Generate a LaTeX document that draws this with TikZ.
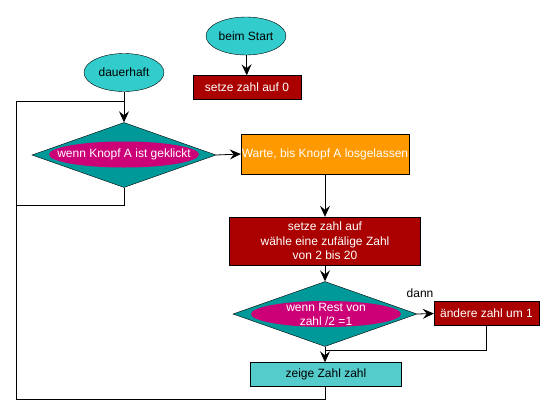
\documentclass[tikz,border=0pt]{standalone}
\usepackage{fontspec}
\setmainfont{Liberation Sans}
\usetikzlibrary{positioning,arrows.meta,shapes.geometric}

\definecolor{hatcyan}{RGB}{51,204,204}
\definecolor{condteal}{RGB}{0,153,153}
\definecolor{condpink}{RGB}{204,0,119}
\definecolor{cmdred}{RGB}{170,0,0}
\definecolor{cmdorange}{RGB}{255,153,0}
\definecolor{showcyan}{RGB}{85,204,204}

\begin{document}
\begin{tikzpicture}[x=1pt, y=-1pt,
  font=\fontsize{12}{14.5}\selectfont,
  hat/.style={ellipse, draw=black, fill=hatcyan, minimum width=80pt, minimum height=38pt, inner sep=0pt},
  cmdbox/.style={draw=black, fill=#1, text=white, inner sep=0pt, align=center},
  cond/.style={diamond, draw=black, fill=condteal, minimum width=184pt, minimum height=65pt, inner sep=0pt},
  condmark/.style={ellipse, fill=condpink, minimum width=150pt, minimum height=26pt, inner sep=0pt},
  flow/.style={-{Stealth[length=11pt, width=10pt, inset=4pt]}, line width=0.8pt},
  wire/.style={line width=0.8pt}
]
\useasboundingbox (0,0) rectangle (554,418);

% Start
\node[hat] (start) at (246,36) {beim Start};
\node[cmdbox=cmdred, minimum width=108pt, minimum height=24pt] (set0) at (247,87.5) {setze zahl auf 0};

% Forever
\node[hat] (forever) at (124,72.5) {dauerhaft};
\coordinate (loopin) at (124,101);
\coordinate (lefttop) at (16,101);

% If button A
\node[cond] (ifA) at (124,155) {};
\node[condmark] (ifAmark) at (124,154.5) {};
\node[text=white] (ifAtext) at (124,154.5) {wenn Knopf A ist geklickt};
\coordinate (lowA) at (124,205);
\coordinate (leftA) at (16,205);

% Wait and random
\node[cmdbox=cmdorange, minimum width=168pt, minimum height=40pt] (wait) at (325,154) {Warte, bis Knopf A losgelassen};
\node[cmdbox=cmdred, minimum width=191pt, minimum height=48pt] (rnd) at (325,241)
  {setze zahl auf\\wähle eine zufälige Zahl\\von 2 bis 20};

% If remainder
\node[cond] (ifRest) at (325,314) {};
\node[condmark] (ifRestmark) at (326,314) {};
\node[text=white, align=center] (ifResttext) at (326,314.5) {wenn Rest von\\zahl /2 =1};
\node (lblThen) at (420,293) {dann};
\node[cmdbox=cmdred, minimum width=105pt, minimum height=24pt] (change) at (486.5,313.5) {ändere zahl um 1};
\coordinate (join) at (325,350);

% Show
\node[draw=black, fill=showcyan, minimum width=151pt, minimum height=24pt, inner sep=0pt] (show) at (326,374.5) {zeige Zahl zahl};
\coordinate (bottomL) at (16,399);

% Connectors
\draw[flow] (start) -- (set0);
\draw[wire] (forever) -- (loopin);
\draw[flow] (loopin) -- (ifA.north);
\draw[wire] (ifA.south) -- (lowA) -- (leftA) -- (lefttop) -- (loopin);
\draw[flow] (ifA.east) -- (wait.west);
\draw[flow] (wait) -- (rnd);
\draw[flow] (rnd) -- (ifRest.north);
\draw[flow] (ifRest.east) -- (change.west);
\draw[wire] (change.south) |- (join);
\draw[flow] (ifRest.south) -- (show.north -| ifRest.south);
\draw[wire] (show.south -| ifRest.south) |- (bottomL) -- (lefttop) -- (loopin);

\end{tikzpicture}
\end{document}
